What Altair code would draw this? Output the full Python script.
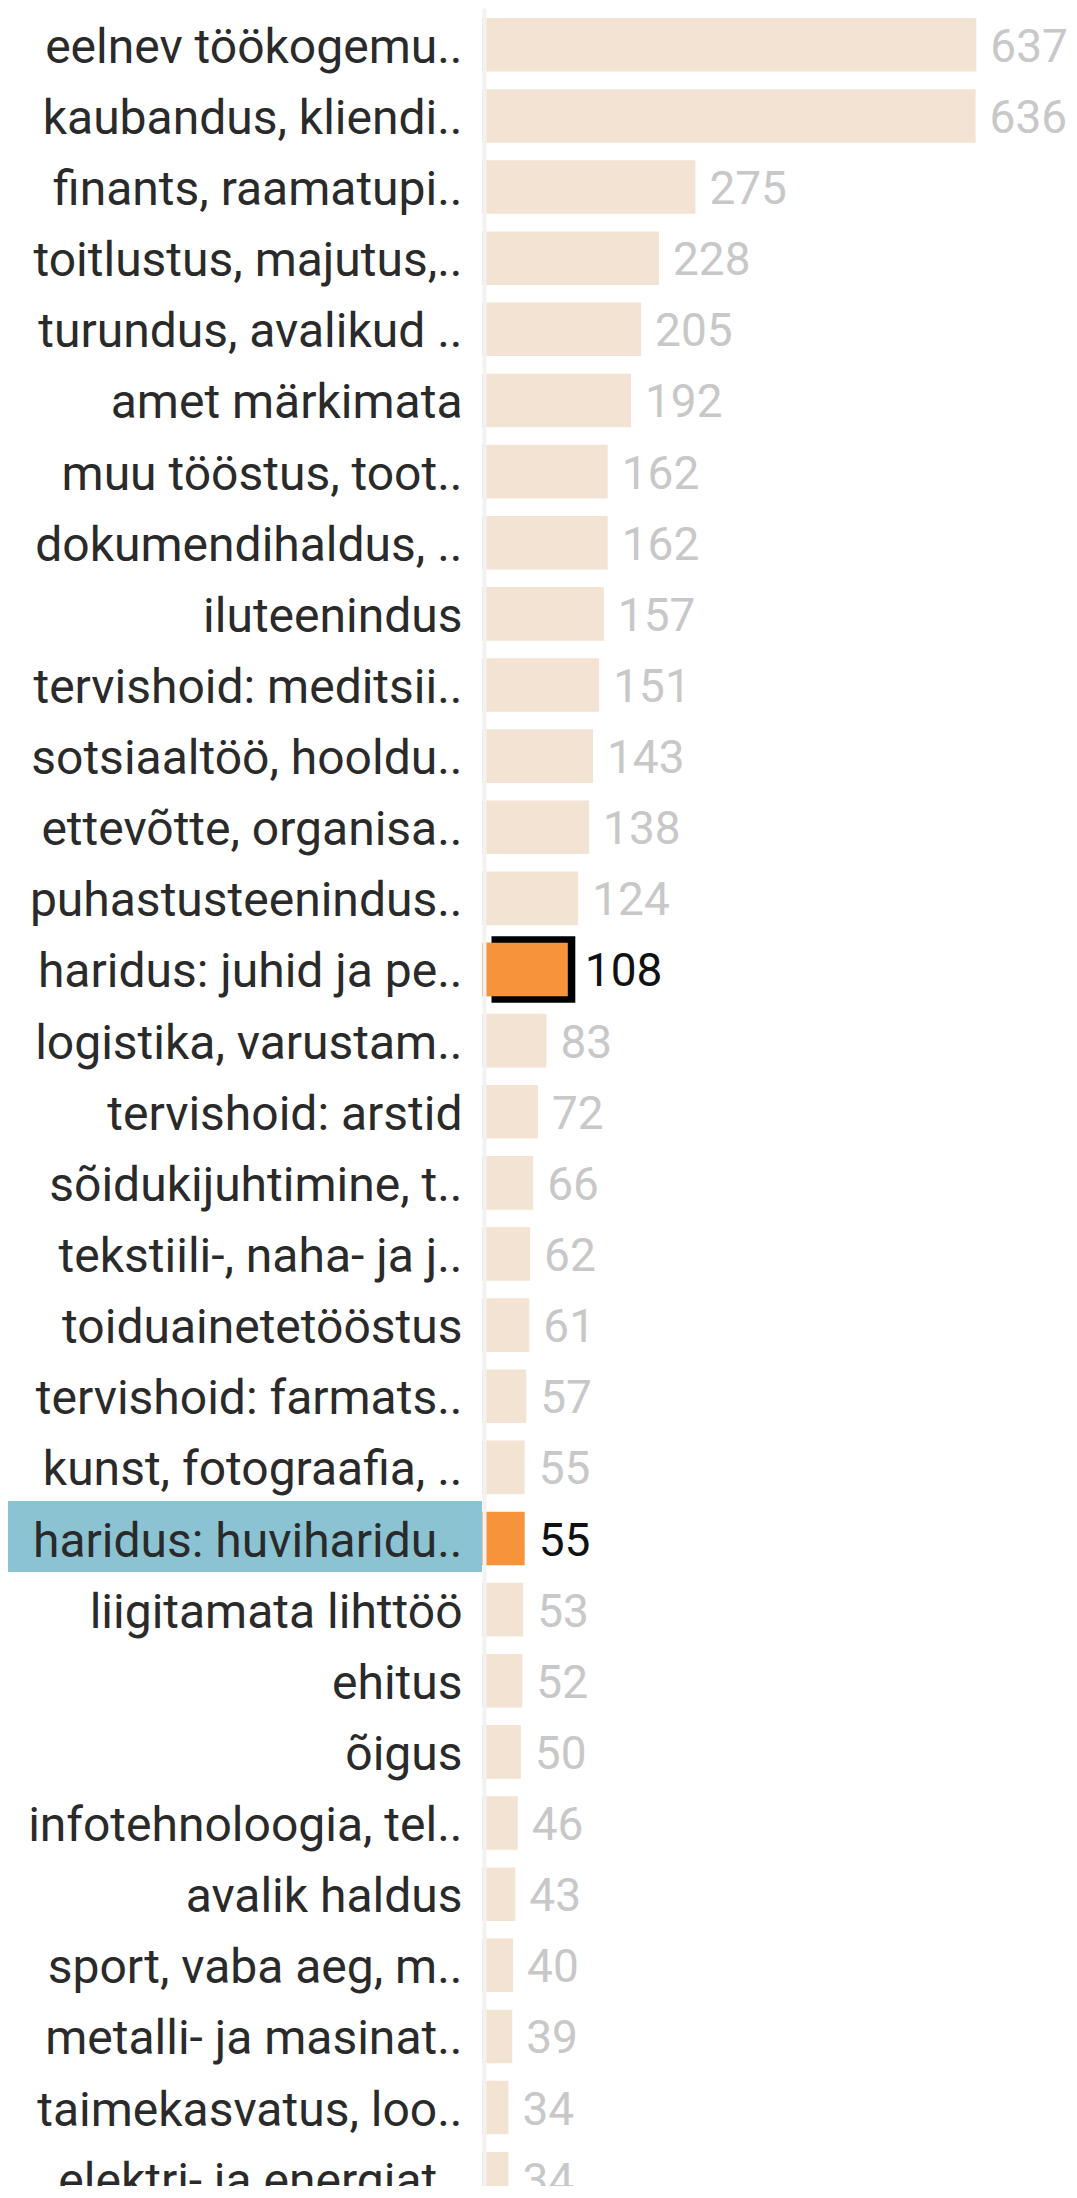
import altair as alt
import pandas as pd

categories = [
    "eelnev töökogemu..", "kaubandus, kliendi..", "finants, raamatupi..",
    "toitlustus, majutus,..", "turundus, avalikud ..", "amet märkimata",
    "muu tööstus, toot..", "dokumendihaldus, ..", "iluteenindus",
    "tervishoid: meditsii..", "sotsiaaltöö, hooldu..", "ettevõtte, organisa..",
    "puhastusteenindus..", "haridus: juhid ja pe..", "logistika, varustam..",
    "tervishoid: arstid", "sõidukijuhtimine, t..", "tekstiili-, naha- ja j..",
    "toiduainetetööstus", "tervishoid: farmats..", "kunst, fotograafia, ..",
    "haridus: huviharidu..", "liigitamata lihttöö", "ehitus", "õigus",
    "infotehnoloogia, tel..", "avalik haldus", "sport, vaba aeg, m..",
    "metalli- ja masinat..", "taimekasvatus, loo..", "elektri- ja energiat..",
]
values = [637, 636, 275, 228, 205, 192, 162, 162, 157, 151, 143, 138, 124, 108,
          83, 72, 66, 62, 61, 57, 55, 55, 53, 52, 50, 46, 43, 40, 39, 34, 34]
selected = ["haridus: juhid ja pe.."]
hovered = ["haridus: huviharidu.."]

status = ["selected" if c in selected else "hover" if c in hovered else "normal"
          for c in categories]
df = pd.DataFrame({"cat": categories, "value": values, "status": status})

FONT = "Roboto"
BEIGE = "#f3e3d3"
ORANGE = "#f7933b"

y = alt.Y("cat:N", sort=categories,
          scale=alt.Scale(paddingInner=0.2465, paddingOuter=0.1406, round=False),
          axis=alt.Axis(title=None, labelFont=FONT, labelFontSize=48,
                        labelColor="#2a2a2a", labelPadding=22, ticks=False,
                        domainColor="#f2f2f2", domainWidth=4, offset=-2,
                        labelOffset=4, labelLimit=1000, grid=False, zindex=1))
x = alt.X("value:Q", scale=alt.Scale(domain=[0, 756.4], nice=False), axis=None)

base = alt.Chart(df)

band = base.transform_filter("datum.status == 'hover'").mark_bar(
    height=71, color="#8cc3d3", yOffset=-2).encode(
    y=y, x=alt.value(-474), x2=alt.value(0))

bars = base.mark_bar().encode(
    y=y, x=x,
    color=alt.condition("datum.status != 'normal'", alt.value(ORANGE), alt.value(BEIGE)),
)

outline = base.transform_filter("datum.status == 'selected'").mark_bar(
    height=66.7, color="#000000", xOffset=9.5).encode(y=y, x=x)

inner = base.transform_filter("datum.status == 'selected'").mark_bar(
    color=ORANGE, xOffset=2, x2Offset=7).encode(y=y, x=x)

label_color = alt.condition("datum.status != 'normal'", alt.value("#111111"),
                            alt.value("#c8c8c8"))

labels = base.transform_filter("datum.status != 'selected'").mark_text(
    align="left", baseline="middle", dx=14, dy=3, font=FONT, fontSize=46).encode(
    y=y, x=x, text=alt.Text("value:Q"), color=label_color)

sel_label = base.transform_filter("datum.status == 'selected'").mark_text(
    align="left", baseline="middle", dx=19, dy=3, font=FONT, fontSize=46).encode(
    y=y, x=x, text=alt.Text("value:Q"), color=label_color)

chart = alt.layer(band, bars, outline, inner, labels, sel_label).properties(
    width=587, height=2207.5,
    autosize=alt.AutoSizeParams(type="none"),
    padding={"left": 474, "top": 0, "right": 0, "bottom": -29.5},
).configure_view(stroke=None)

chart.save("out.html", embed_options={"renderer": "svg", "actions": False})
